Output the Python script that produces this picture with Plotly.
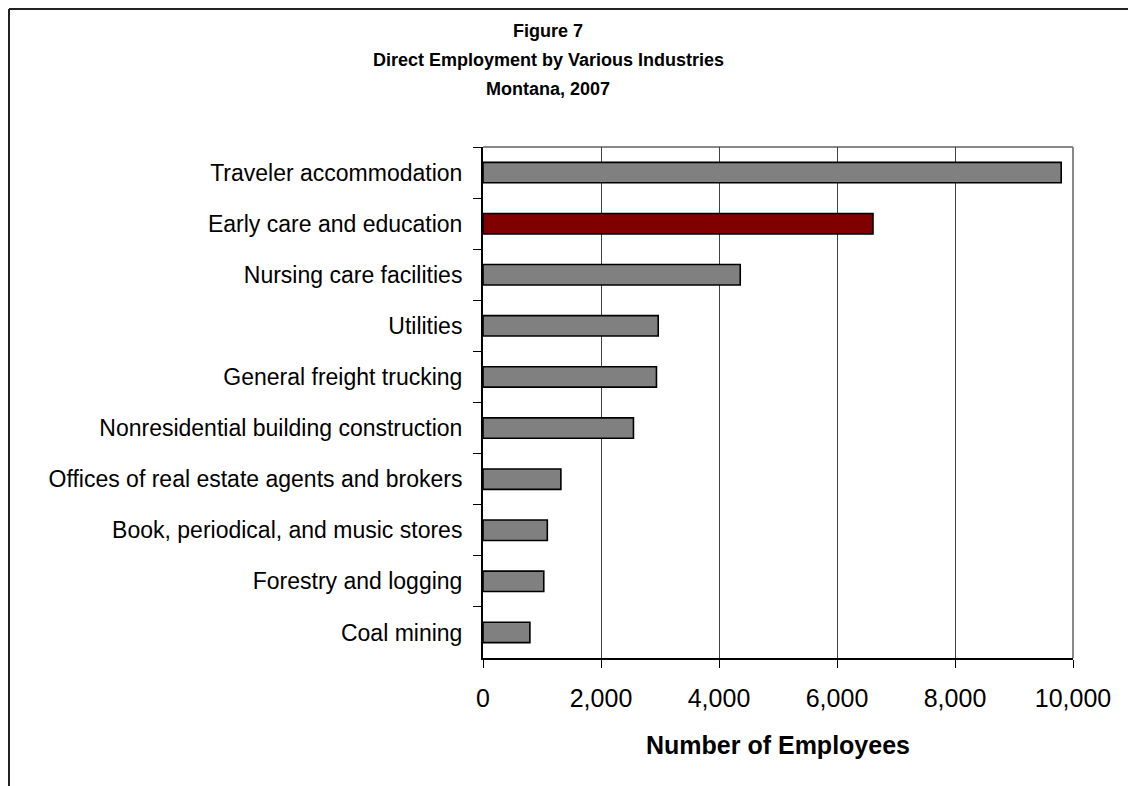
import plotly.graph_objects as go

# Direct employment, Montana 2007 (top to bottom as listed)
industries = [
    "Traveler accommodation",
    "Early care and education",
    "Nursing care facilities",
    "Utilities",
    "General freight trucking",
    "Nonresidential building construction",
    "Offices of real estate agents and brokers",
    "Book, periodical, and music stores",
    "Forestry and logging",
    "Coal mining",
]
employees = [9800, 6610, 4360, 2970, 2940, 2550, 1320, 1090, 1030, 795]
highlight = "Early care and education"

x_ticks = [0, 2000, 4000, 6000, 8000, 10000]
x_tick_labels = ["0", "2,000", "4,000", "6,000", "8,000", "10,000"]

title_lines = ["Figure 7", "Direct Employment by Various Industries", "Montana, 2007"]

bar_colors = ["#800000" if name == highlight else "#808080" for name in industries]

W, H = 1128, 786
left, right, top, bottom = 483, 1073, 147, 658
pw, ph = right - left, bottom - top


def px_x(x):
    return (x - left) / pw


def px_y(y):
    return (bottom - y) / ph


fig = go.Figure(
    go.Bar(
        x=employees,
        y=industries,
        orientation="h",
        marker=dict(color=bar_colors, line=dict(color="#000000", width=1.6)),
        width=0.4,
        hoverinfo="x+y",
    )
)

font_family = "Liberation Sans, Arial, sans-serif"

# three centred title lines
title_y = [31, 60, 89]
annotations = [
    dict(text=f"<b>{line}</b>", xref="paper", yref="paper",
         x=px_x(548), y=px_y(yc), xanchor="center", yanchor="middle",
         showarrow=False, font=dict(size=18, family=font_family, color="#000000"))
    for line, yc in zip(title_lines, title_y)
]

fig.update_layout(
    width=W,
    height=H,
    margin=dict(l=left, r=W - right, t=top, b=H - bottom, pad=0),
    paper_bgcolor="white",
    plot_bgcolor="white",
    showlegend=False,
    font=dict(family=font_family, color="#000000"),
    annotations=annotations,
    xaxis=dict(
        range=[0, 10000],
        tickvals=x_ticks,
        ticktext=x_tick_labels,
        ticks="outside",
        ticklen=8,
        tickwidth=1,
        tickcolor="#000000",
        showline=True,
        linecolor="#000000",
        linewidth=2,
        showgrid=True,
        gridcolor="#404040",
        gridwidth=1,
        zeroline=False,
        tickfont=dict(size=25, family=font_family),
        ticklabelstandoff=9,
        title=dict(
            text="<b>Number of Employees</b>",
            font=dict(size=25, family=font_family),
            standoff=25,
        ),
    ),
    yaxis=dict(
        autorange="reversed",
        tickson="boundaries",
        ticks="outside",
        ticklen=8,
        tickwidth=1,
        tickcolor="#000000",
        showline=True,
        linecolor="#000000",
        linewidth=2,
        showgrid=False,
        tickfont=dict(size=23, family=font_family),
        ticklabelstandoff=14,
    ),
    shapes=[
        # grey border on the plot area's top and right edges
        dict(type="line", xref="paper", yref="paper", x0=0, x1=1, y0=1, y1=1,
             line=dict(color="#888888", width=2), layer="below"),
        dict(type="line", xref="paper", yref="paper", x0=1, x1=1, y0=0, y1=1,
             line=dict(color="#888888", width=2), layer="below"),
        # outer frame around the whole chart
        dict(type="line", xref="paper", yref="paper",
             x0=px_x(9), x1=px_x(1140), y0=px_y(9), y1=px_y(9),
             line=dict(color="#222222", width=2)),
        dict(type="line", xref="paper", yref="paper",
             x0=px_x(9), x1=px_x(9), y0=px_y(9), y1=px_y(800),
             line=dict(color="#222222", width=2)),
    ],
)

fig.write_html("out.html")
